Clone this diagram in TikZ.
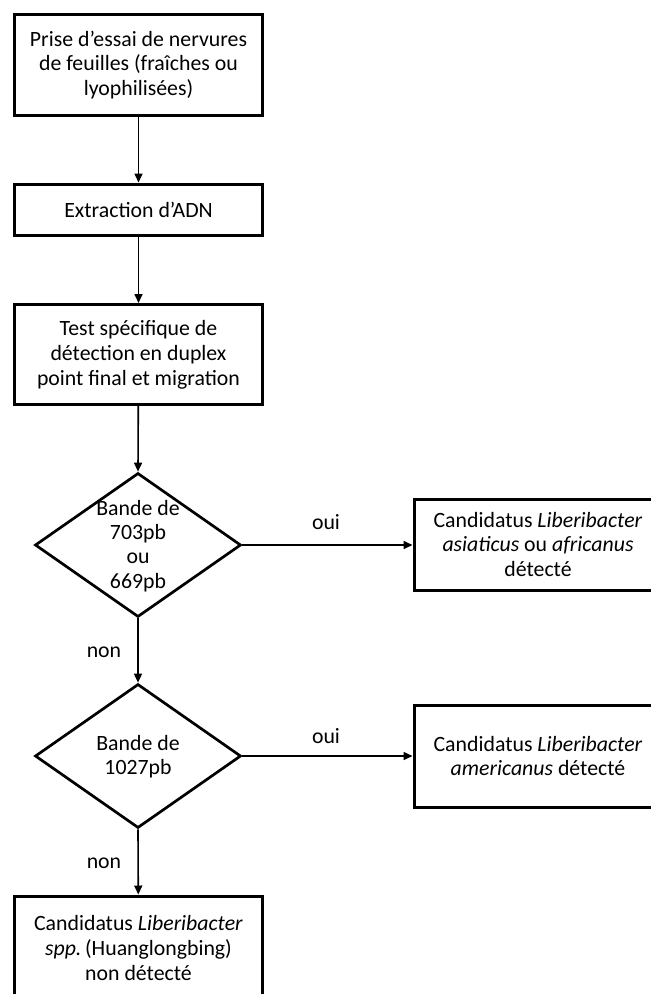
\documentclass[tikz,border=0pt]{standalone}
\usepackage{fontspec}
\setmainfont{Carlito}
\usetikzlibrary{shapes.geometric,arrows.meta}
\begin{document}
\begin{tikzpicture}[x=1pt,y=-1pt,
  box/.style={draw, line width=3pt, rectangle, minimum width=248pt, inner sep=0pt, align=center, font=\fontsize{21.8}{24.8}\selectfont},
  dia/.style={draw, line width=2.7pt, diamond, minimum width=206pt, minimum height=144pt, inner sep=0pt},
  txt/.style={align=center, font=\fontsize{21.8}{24.2}\selectfont, inner sep=0pt},
  arr/.style={line width=1.6pt, -{Triangle[length=9pt,width=8pt]}},
]
\useasboundingbox (0,0) rectangle (651,994);
\clip (0,0) rectangle (651,994);
\fill[white] (0,0) rectangle (651,994);

\node[box, minimum height=101pt] (b1) at (138.5,65) {Prise d’essai de nervures\\de feuilles (fraîches ou\\lyophilisées)};
\node[box, minimum height=51pt] (b2) at (138.5,209.5) {Extraction d’ADN};
\node[box, minimum height=100pt] (b3) at (138.5,354.5) {Test spécifique de\\détection en duplex\\point final et migration};

\node[dia] (d1) at (138,545) {};
\node[txt] (d1t) at (138,546) {Bande de\\703pb\\ou\\669pb};
\node[dia] (d2) at (138,756) {};
\node[txt] (d2t) at (138,757) {Bande de\\1027pb};

\node[box, minimum height=91pt] (r1) at (538,544.5) {Candidatus \textit{Liberibacter}\\\textit{asiaticus} ou \textit{africanus}\\détecté};
\node[box, minimum height=102pt] (r2) at (538,756) {Candidatus \textit{Liberibacter}\\\textit{americanus} détecté};
\node[box, minimum height=104pt] (b4) at (138.5,948) {Candidatus \textit{Liberibacter}\\\textit{spp.}\,(Huanglongbing)\\non détecté};

\draw[arr] (b1) -- (b2);
\draw[arr] (b2) -- (b3);
\draw[arr] (b3) -- (d1.north);
\draw[arr] (d1.south) -- (d2.north);
\draw[arr] (d2.south) -- (b4);
\draw[arr] (d1.east) -- (d1.east -| r1.west);
\draw[arr] (d2.east) -- (d2.east -| r2.west);

\node[txt] (l1) at (326,522) {oui};
\node[txt] (l2) at (326,736) {oui};
\node[txt] (l3) at (104,652) {non};
\node[txt] (l4) at (104,863) {non};
\end{tikzpicture}
\end{document}
